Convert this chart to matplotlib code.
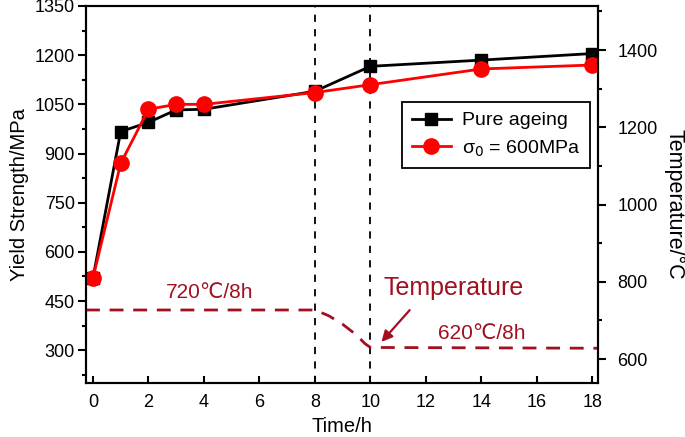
import matplotlib
matplotlib.use("Agg")
import matplotlib.pyplot as plt
from matplotlib.ticker import MultipleLocator

plt.rcParams['font.family'] = ['Liberation Sans', 'DejaVu Sans']

time = [0, 1, 2, 3, 4, 8, 10, 14, 18]
pure_ageing = [520, 967, 995, 1033, 1035, 1090, 1166, 1185, 1205]
stress_600 = [520, 870, 1035, 1050, 1050, 1086, 1110, 1158, 1170]

temp_time = [-0.25, 8.0, 8.5, 9.0, 9.5, 9.8, 10.0, 18.2]
temp_vals = [727, 727, 712, 690, 662, 640, 630, 628]

dark_red = '#a01020'

fig = plt.figure(figsize=(6.85, 4.37), dpi=100)
ax = fig.add_axes([86/685, 1-383/437, (598-86)/685, (383-6)/437])
ax2 = ax.twinx()

ax.plot(time, pure_ageing, '-s', color='black', lw=2, ms=9, label='Pure ageing', zorder=3)
ax.plot(time, stress_600, '-o', color='#ff0000', mec='#ff0000', lw=2, ms=11, label='σ$_0$ = 600MPa', zorder=4)

ax.axvline(8, color='black', ls=(0, (4, 4)), lw=1.3)
ax.axvline(10, color='black', ls=(0, (4, 4)), lw=1.3)

ax2.plot(temp_time, temp_vals, color=dark_red, ls=(0, (5, 3.5)), lw=2)

ax.set_xlim(-0.25, 18.2)
ax.set_ylim(200, 1350)
ax2.set_ylim(538, 1514)

ax.set_xticks(range(0, 19, 2))
ax.set_yticks(range(300, 1351, 150))
ax.yaxis.set_minor_locator(MultipleLocator(75))
ax2.set_yticks([600, 800, 1000, 1200, 1400])
ax2.yaxis.set_minor_locator(MultipleLocator(100))

ax.tick_params(axis='x', direction='in', length=5, width=1.5, labelsize=13, pad=8)
ax.tick_params(axis='y', which='major', direction='out', length=6, width=1.5, labelsize=13, pad=2)
ax.tick_params(axis='y', which='minor', direction='out', length=3, width=1.5)
ax2.tick_params(axis='y', which='major', direction='out', length=6, width=1.5, labelsize=13, pad=8)
ax2.tick_params(axis='y', which='minor', direction='out', length=3, width=1.5)

for a in (ax, ax2):
    for s in a.spines.values():
        s.set_linewidth(1.5)

ax.set_xlabel('Time/h', fontsize=14.5, labelpad=4)
ax.set_ylabel('Yield Strength/MPa', fontsize=14.5, labelpad=4)
ax2.set_ylabel('Temperature/°C', fontsize=15.5, rotation=270, ha='center', va='center')
ax2.yaxis.set_label_coords((674 - 86) / 512, 1 - (204 - 6) / 377)

ax2.text(4.2, 771, '720℃/8h', color=dark_red, fontsize=15, ha='center', va='center')
ax2.text(14.0, 667, '620℃/8h', color=dark_red, fontsize=15, ha='center', va='center')
ax2.text(13.0, 784, 'Temperature', color=dark_red, fontsize=18, ha='center', va='center')
ax2.annotate('', xy=(10.33, 639), xytext=(11.48, 732),
             arrowprops=dict(arrowstyle='-|>', color=dark_red, lw=1.6, mutation_scale=16))

leg = ax.legend(loc='upper left', bbox_to_anchor=(0.617, 0.745), fontsize=14,
                fancybox=False, edgecolor='black', framealpha=1, handlelength=2.0,
                handletextpad=0.6, borderpad=0.5, labelspacing=0.45, borderaxespad=0)
leg.get_frame().set_linewidth(1.3)

fig.savefig('out.png', dpi=100)
